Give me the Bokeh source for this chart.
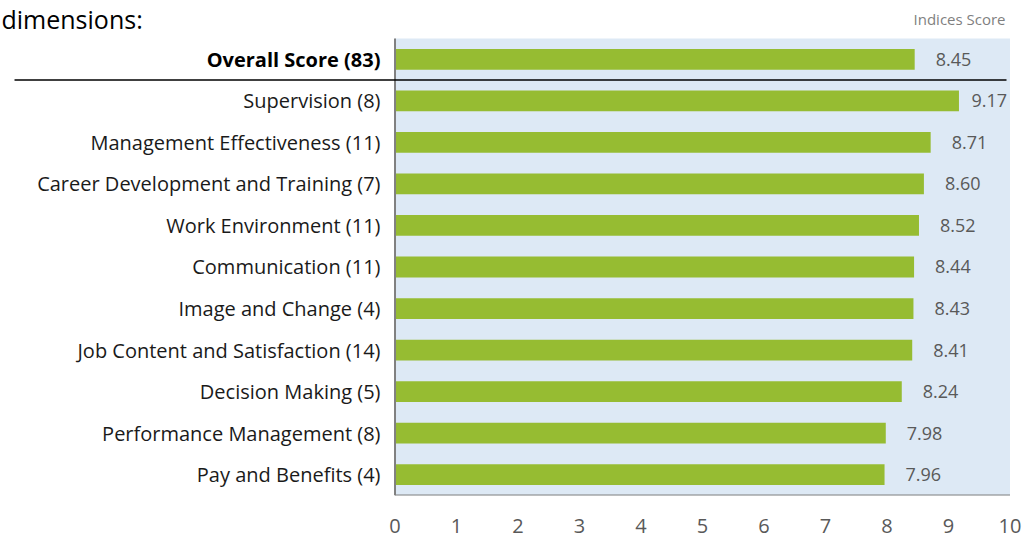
from bokeh.plotting import figure
from bokeh.models import Range1d, FixedTicker, ColumnDataSource
from bokeh.core.properties import value
from bokeh.embed import file_html
from bokeh.resources import INLINE

categories = [
    "Overall Score (83)",
    "Supervision (8)",
    "Management Effectiveness (11)",
    "Career Development and Training (7)",
    "Work Environment (11)",
    "Communication (11)",
    "Image and Change (4)",
    "Job Content and Satisfaction (14)",
    "Decision Making (5)",
    "Performance Management (8)",
    "Pay and Benefits (4)",
]
scores = [8.45, 9.17, 8.71, 8.60, 8.52, 8.44, 8.43, 8.41, 8.24, 7.98, 7.96]
x_ticks = list(range(0, 11))
title_text = "dimensions:"
axis_title = "Indices Score"

FONT = "Open Sans"
GREEN = "#96bc32"
BLUE = "#dde9f5"
GRAY = "#595959"

PX_PER_UNIT = 61.5
n = len(categories)
pos = list(range(n))
labels_txt = ["%.2f" % s for s in scores]
# keep value labels from running past the right edge
val_offsets = [min(21, 576.5 - s * PX_PER_UNIT) for s in scores]

src = ColumnDataSource(dict(cat=categories, score=scores, y=pos, lab=labels_txt,
                            zero=[0] * n, off=val_offsets))

p = figure(width=1029, height=537, output_backend="svg", toolbar_location=None,
           x_range=Range1d(-6.415, 10.317), y_range=Range1d(10.5, -1.4146),
           min_border_left=0, min_border_right=0, min_border_top=0,
           min_border_bottom=42)
p.outline_line_color = None
p.background_fill_color = "white"
p.border_fill_color = "white"
p.xgrid.visible = False
p.ygrid.visible = False
p.yaxis.visible = False

# x axis
p.xaxis.ticker = FixedTicker(ticks=x_ticks)
p.xaxis.axis_line_color = None
p.xaxis.major_tick_line_color = None
p.xaxis.minor_tick_line_color = None
p.xaxis.major_label_standoff = 17
p.xaxis.major_label_text_font = FONT
p.xaxis.major_label_text_font_size = "20px"
p.xaxis.major_label_text_color = GRAY

# plot background (0..10)
p.quad(left=[0], right=[x_ticks[-1]], bottom=[n - 0.5], top=[-0.5],
       fill_color=BLUE, line_color=None)

# bars
p.hbar(y="y", left="zero", right="score", height=0.5, source=src,
       fill_color=GREEN, line_color=None)

# axis lines
p.segment(x0=[0], y0=[-0.5], x1=[0], y1=[n - 0.5], line_color="#808080", line_width=2)
p.segment(x0=[0], y0=[n - 0.5], x1=[x_ticks[-1]], y1=[n - 0.5], line_color="#808080", line_width=2)

# separator under overall score
p.segment(x0=[-6.187], y0=[0.5], x1=[9.943], y1=[0.5], line_color="black", line_width=1.5)

# value labels
p.text(x="score", y="y", text="lab", source=src, x_offset="off",
       text_font=value(FONT), text_font_size="18px", text_color=GRAY,
       text_baseline="middle", text_align="left")

# category labels
p.text(x=[0], y=[pos[0]], text=[categories[0]], x_offset=-14.5,
       text_font=value(FONT), text_font_size="20px", text_font_style="bold",
       text_color="black", text_baseline="middle", text_align="right")
p.text(x=[0] * (n - 1), y=pos[1:], text=categories[1:], x_offset=-14.5,
       text_font=value(FONT), text_font_size="20px",
       text_color="#1a1a1a", text_baseline="middle", text_align="right")

# headers
p.text(x=[-6.415], y=[-1.3905], text=[title_text], x_offset=1,
       text_font=value(FONT), text_font_size="25px", text_color="black",
       text_baseline="top", text_align="left")
p.text(x=[9.927], y=[-0.981], text=[axis_title],
       text_font=value(FONT), text_font_size="15px", text_color="#7f7f7f",
       text_baseline="middle", text_align="right")

open("out.html", "w").write(file_html(p, INLINE))
